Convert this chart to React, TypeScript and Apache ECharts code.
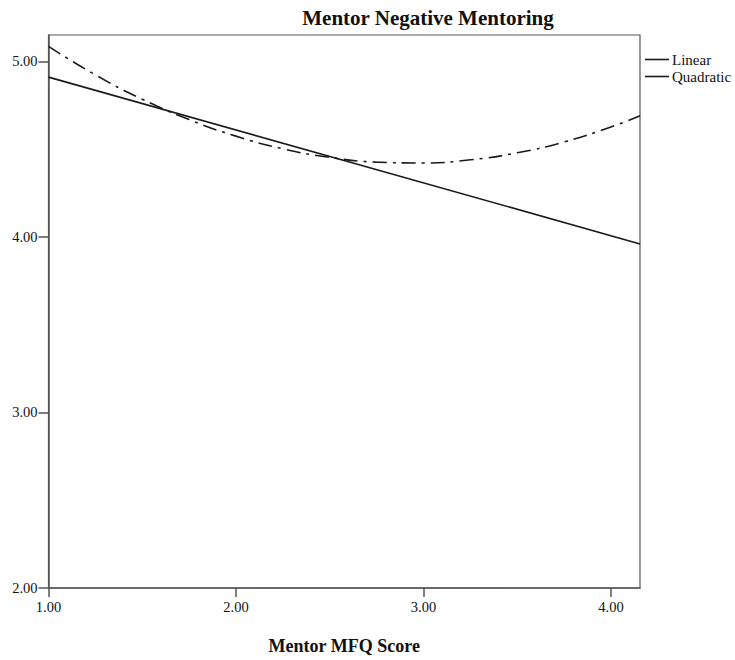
import React, { useEffect, useRef } from "react";
import * as echarts from "echarts";

const titleText = "Mentor Negative Mentoring";
const xAxisName = "Mentor MFQ Score";
const xTickValues = [1, 2, 3, 4];
const yTickValues = [2, 3, 4, 5];
const seriesNames = ["Linear", "Quadratic"];
// Linear fit line, read at its two ends
const linearX = [1.0, 4.155];
const linearY = [4.91, 3.96];
// Quadratic fit curve, read at points along the x axis
const quadX = [1.0, 1.25, 1.5, 1.75, 2.0, 2.25, 2.5, 2.75, 3.0, 3.25, 3.5, 3.75, 4.0, 4.155];
const quadY = [5.085, 4.923, 4.784, 4.668, 4.574, 4.502, 4.453, 4.426, 4.421, 4.439, 4.479, 4.541, 4.626, 4.69];

const FONT = "'Liberation Serif', 'Times New Roman', serif";

export default function App() {
  const ref = useRef<HTMLDivElement>(null);
  useEffect(() => {
    if (!ref.current) return;
    const chart = echarts.init(ref.current, undefined, { renderer: "svg" });
    const fmt = (v: number) => v.toFixed(2);
    chart.setOption({
      animation: false,
      backgroundColor: "#ffffff",
      graphic: [
        {
          type: "text",
          x: 428,
          y: 18,
          style: {
            text: titleText,
            textAlign: "center",
            textVerticalAlign: "middle",
            font: `bold 21px ${FONT}`,
            fill: "#111",
          },
        },
      ],
      grid: {
        left: 48.5,
        right: 95,
        top: 35,
        bottom: 63.5,
        show: true,
        borderColor: "#555",
        borderWidth: 1.2,
        backgroundColor: "#fff",
      },
      legend: {
        orient: "vertical",
        left: 645,
        top: 52,
        padding: 0,
        itemWidth: 24,
        itemHeight: 1.6,
        itemGap: 2,
        icon: "rect",
        itemStyle: { color: "#1a1a1a" },
        textStyle: { fontFamily: FONT, fontSize: 15, color: "#111", padding: [0, 0, 0, -2] },
        data: seriesNames,
      },
      xAxis: {
        type: "value",
        min: 1,
        max: 4.155,
        interval: 1,
        name: xAxisName,
        nameLocation: "middle",
        nameGap: 49,
        nameTextStyle: { fontFamily: FONT, fontWeight: "bold", fontSize: 18, color: "#111" },
        axisLine: { show: true, lineStyle: { color: "#555", width: 1.5 } },
        axisTick: { show: true, length: 9, customValues: xTickValues, lineStyle: { color: "#555", width: 1.5 } },
        axisLabel: {
          customValues: xTickValues,
          formatter: fmt,
          fontFamily: FONT,
          fontSize: 14.5,
          color: "#111",
          margin: 11,
        },
        splitLine: { show: false },
      },
      yAxis: {
        type: "value",
        min: 2,
        max: 5.15,
        interval: 1,
        axisLine: { show: true, lineStyle: { color: "#555", width: 1.5 } },
        axisTick: { show: true, length: 10, customValues: yTickValues, lineStyle: { color: "#555", width: 1.5 } },
        axisLabel: {
          customValues: yTickValues,
          formatter: fmt,
          fontFamily: FONT,
          fontSize: 14.5,
          color: "#111",
          margin: 11,
        },
        splitLine: { show: false },
      },
      series: [
        {
          name: seriesNames[0],
          type: "line",
          symbol: "none",
          data: linearX.map((x, i) => [x, linearY[i]]),
          lineStyle: { color: "#1a1a1a", width: 1.6, type: "solid" },
          itemStyle: { color: "#1a1a1a" },
        },
        {
          name: seriesNames[1],
          type: "line",
          symbol: "none",
          smooth: true,
          data: quadX.map((x, i) => [x, quadY[i]]),
          lineStyle: { color: "#1a1a1a", width: 1.6, type: [14, 6, 3, 6] },
          itemStyle: { color: "#1a1a1a" },
        },
      ],
    });
    return () => chart.dispose();
  }, []);
  return (
    <div
      ref={ref}
      style={{ position: "fixed", left: 0, top: 0, width: 735, height: 660, background: "#fff" }}
    />
  );
}
